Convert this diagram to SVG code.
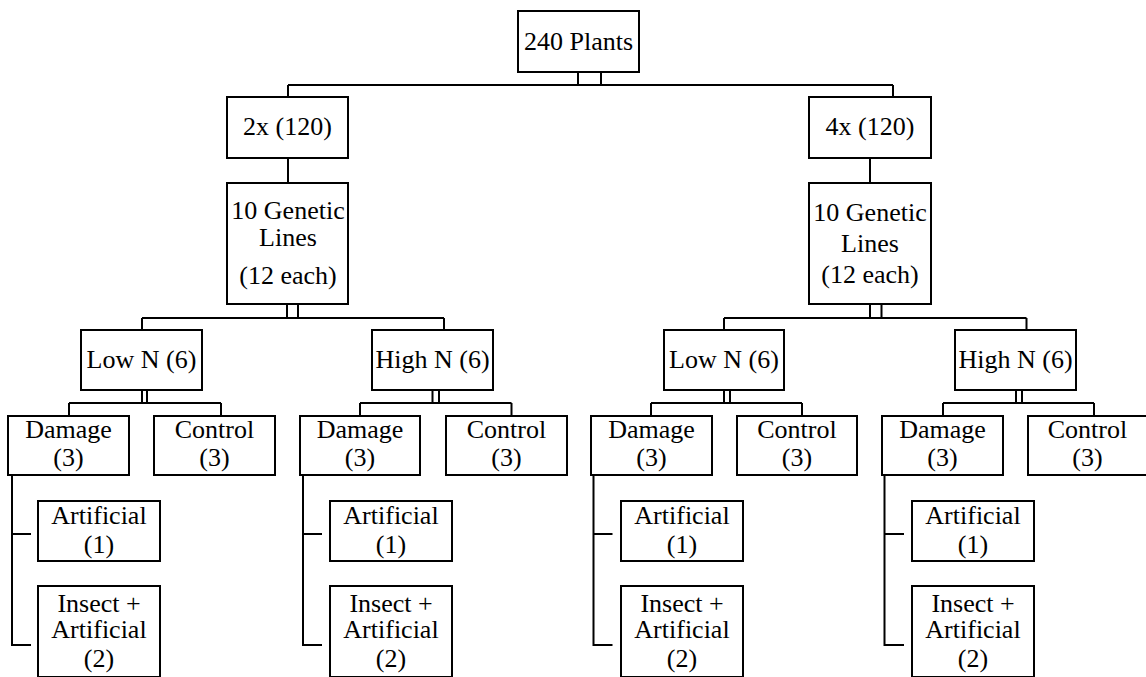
<svg xmlns="http://www.w3.org/2000/svg" width="1146" height="677" viewBox="0 0 1146 677" font-family="Liberation Serif, Times New Roman, serif">
<style>
.box{fill:#fff;stroke:#000;stroke-width:2}
.t{font-size:26px;fill:#000;text-anchor:middle}
.c{fill:none;stroke:#000;stroke-width:2}
</style>
<rect width="1146" height="677" fill="#fff"/>
<g id="connectors" class="c">
<path d="M578,72 V85 M601,72 V85 M288,85 H893 M288,85 V97 M893,85 V97"/>
<path d="M288,158 V183 M870,158 V183"/>
<path d="M287,304 V318 M298,304 V318 M142,318 H444 M142,318 V330 M444,318 V330"/>
<path d="M870,304 V318 M881.5,304 V318 M724,318 H1026.5 M724,318 V330 M1026.5,318 V330"/>
<path d="M142,390 V403 M147,390 V403 M69,403 H221 M69,403 V416 M221,403 V416"/>
<path d="M432.5,390 V403 M439,390 V403 M360,403 H511.5 M360,403 V416 M511.5,403 V416"/>
<path d="M724,390 V403 M730,390 V403 M651,403 H802 M651,403 V416 M802,403 V416"/>
<path d="M1016,390 V403 M1022,390 V403 M943,403 H1094 M943,403 V416 M1094,403 V416"/>
<path d="M12,475 V645 H31 M12,534 H31"/>
<path d="M303,475 V645 H322 M303,534 H322"/>
<path d="M593.5,475 V645 H612.5 M593.5,534 H612.5"/>
<path d="M884.5,475 V645 H904 M884.5,534 H904"/>
</g>
<g id="n_root"><rect class="box" x="518" y="11" width="121" height="61"/><text class="t" x="578.5" y="50">240 Plants</text></g>
<g id="n_2x"><rect class="box" x="227" y="97" width="121" height="61"/><text class="t" x="287.5" y="135">2x (120)</text></g>
<g id="n_gen2x"><rect class="box" x="227" y="183" width="121" height="121"/><text class="t" x="288" y="219">10 Genetic</text><text class="t" x="288" y="246">Lines</text><text class="t" x="288" y="284">(12 each)</text></g>
<g id="n_4x"><rect class="box" x="809" y="97" width="122" height="61"/><text class="t" x="870" y="135">4x (120)</text></g>
<g id="n_gen4x"><rect class="box" x="809" y="183" width="122" height="121"/><text class="t" x="870" y="221">10 Genetic</text><text class="t" x="870" y="252">Lines</text><text class="t" x="870" y="283">(12 each)</text></g>
<g id="n_low2x"><rect class="box" x="81" y="330" width="121" height="60"/><text class="t" x="141.5" y="367.5">Low N (6)</text></g>
<g id="n_high2x"><rect class="box" x="372" y="330" width="121" height="60"/><text class="t" x="432.5" y="367.5">High N (6)</text></g>
<g id="n_low4x"><rect class="box" x="664" y="330" width="120" height="60"/><text class="t" x="724" y="367.5">Low N (6)</text></g>
<g id="n_high4x"><rect class="box" x="955" y="330" width="121" height="60"/><text class="t" x="1015.5" y="367.5">High N (6)</text></g>
<g id="n_dmg1"><rect class="box" x="8" y="416" width="121" height="59"/><text class="t" x="68.5" y="438">Damage</text><text class="t" x="68.5" y="466">(3)</text></g>
<g id="n_ctl1"><rect class="box" x="154" y="416" width="121" height="59"/><text class="t" x="214.5" y="438">Control</text><text class="t" x="214.5" y="466">(3)</text></g>
<g id="n_dmg2"><rect class="box" x="300" y="416" width="120" height="59"/><text class="t" x="360" y="438">Damage</text><text class="t" x="360" y="466">(3)</text></g>
<g id="n_ctl2"><rect class="box" x="446" y="416" width="121" height="59"/><text class="t" x="506.5" y="438">Control</text><text class="t" x="506.5" y="466">(3)</text></g>
<g id="n_dmg3"><rect class="box" x="591" y="416" width="121" height="59"/><text class="t" x="651.5" y="438">Damage</text><text class="t" x="651.5" y="466">(3)</text></g>
<g id="n_ctl3"><rect class="box" x="737" y="416" width="120" height="59"/><text class="t" x="797" y="438">Control</text><text class="t" x="797" y="466">(3)</text></g>
<g id="n_dmg4"><rect class="box" x="882" y="416" width="121" height="59"/><text class="t" x="942.5" y="438">Damage</text><text class="t" x="942.5" y="466">(3)</text></g>
<g id="n_ctl4"><rect class="box" x="1028" y="416" width="120" height="59"/><text class="t" x="1087.5" y="438">Control</text><text class="t" x="1087.5" y="466">(3)</text></g>
<g id="n_art1"><rect class="box" x="38" y="501" width="122" height="60"/><text class="t" x="99" y="524">Artificial</text><text class="t" x="99" y="553">(1)</text></g>
<g id="n_ins1"><rect class="box" x="38" y="586" width="122" height="91"/><text class="t" x="99" y="612">Insect +</text><text class="t" x="99" y="638">Artificial</text><text class="t" x="99" y="667">(2)</text></g>
<g id="n_art2"><rect class="box" x="330" y="501" width="122" height="60"/><text class="t" x="391" y="524">Artificial</text><text class="t" x="391" y="553">(1)</text></g>
<g id="n_ins2"><rect class="box" x="330" y="586" width="122" height="91"/><text class="t" x="391" y="612">Insect +</text><text class="t" x="391" y="638">Artificial</text><text class="t" x="391" y="667">(2)</text></g>
<g id="n_art3"><rect class="box" x="621" y="501" width="122" height="60"/><text class="t" x="682" y="524">Artificial</text><text class="t" x="682" y="553">(1)</text></g>
<g id="n_ins3"><rect class="box" x="621" y="586" width="122" height="91"/><text class="t" x="682" y="612">Insect +</text><text class="t" x="682" y="638">Artificial</text><text class="t" x="682" y="667">(2)</text></g>
<g id="n_art4"><rect class="box" x="912" y="501" width="122" height="60"/><text class="t" x="973" y="524">Artificial</text><text class="t" x="973" y="553">(1)</text></g>
<g id="n_ins4"><rect class="box" x="912" y="586" width="122" height="91"/><text class="t" x="973" y="612">Insect +</text><text class="t" x="973" y="638">Artificial</text><text class="t" x="973" y="667">(2)</text></g>
</svg>
